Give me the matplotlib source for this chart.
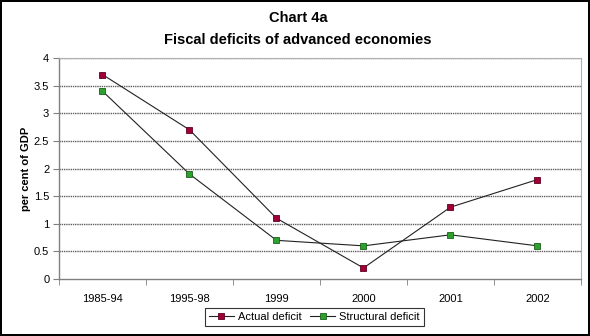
import matplotlib
matplotlib.use("Agg")
import matplotlib.pyplot as plt
import numpy as np

categories = ["1985-94", "1995-98", "1999", "2000", "2001", "2002"]
actual = [3.7, 2.7, 1.1, 0.2, 1.3, 1.8]
structural = [3.4, 1.9, 0.7, 0.6, 0.8, 0.6]
yticks = [0, 0.5, 1, 1.5, 2, 2.5, 3, 3.5, 4]
ytick_labels = ["0", "0.5", "1", "1.5", "2", "2.5", "3", "3.5", "4"]

plt.rcParams['font.family'] = ['Liberation Sans', 'DejaVu Sans']

fig = plt.figure(figsize=(5.9, 3.36), dpi=100)
fig.patch.set_facecolor("white")
fig.patch.set_edgecolor("black")
fig.patch.set_linewidth(1.5)

ax = fig.add_axes([0.1, 0.1696, 0.8847, 0.6578])
x = np.arange(len(categories))

ax.plot(x, actual, color="#222222", lw=0.8, marker="s", ms=4.5,
        mfc="#a0003a", mec="#600020", mew=0.6, label="Actual deficit", zorder=3)
ax.plot(x, structural, color="#222222", lw=0.8, marker="s", ms=4.5,
        mfc="#2ea02e", mec="#1a601a", mew=0.6, label="Structural deficit", zorder=3)

ax.set_xlim(-0.5, len(categories) - 0.5)
ax.set_ylim(0, 4)
ax.set_yticks(yticks)
ax.set_yticklabels(ytick_labels, fontsize=8)
ax.set_xticks(x)
ax.set_xticklabels(categories, fontsize=8)
ax.tick_params(axis="x", length=0, pad=11)
ax.set_xticks(np.arange(-0.5, len(categories), 1), minor=True)
ax.tick_params(axis="x", which="minor", length=4, color="#808080", direction="out")
ax.tick_params(axis="y", length=4, color="#808080", direction="out", pad=3)

for yv in yticks[1:]:
    ax.axhline(yv, color="#606060", lw=1.0, ls=(0, (1, 0.6)), zorder=1)

for s in ["top", "right"]:
    ax.spines[s].set_color("#b0b0b0")
    ax.spines[s].set_linewidth(0.8)
for s in ["left", "bottom"]:
    ax.spines[s].set_color("#808080")
    ax.spines[s].set_linewidth(1.0)

ax.set_ylabel("per cent of GDP", fontsize=8, fontweight="bold", labelpad=2)

fig.text(0.505, 0.946, "Chart 4a", ha="center", va="center", fontsize=10.5, fontweight="bold")
fig.text(0.505, 0.881, "Fiscal deficits of advanced economies", ha="center", va="center",
         fontsize=10.5, fontweight="bold")

leg = fig.legend(loc="center", bbox_to_anchor=(0.533, 0.057), ncol=2, fontsize=8,
                 frameon=True, fancybox=False, edgecolor="black", handlelength=2.2,
                 borderpad=0.35, columnspacing=0.8, handletextpad=0.4)
leg.get_frame().set_linewidth(0.8)

fig.savefig("out.png", dpi=100)
